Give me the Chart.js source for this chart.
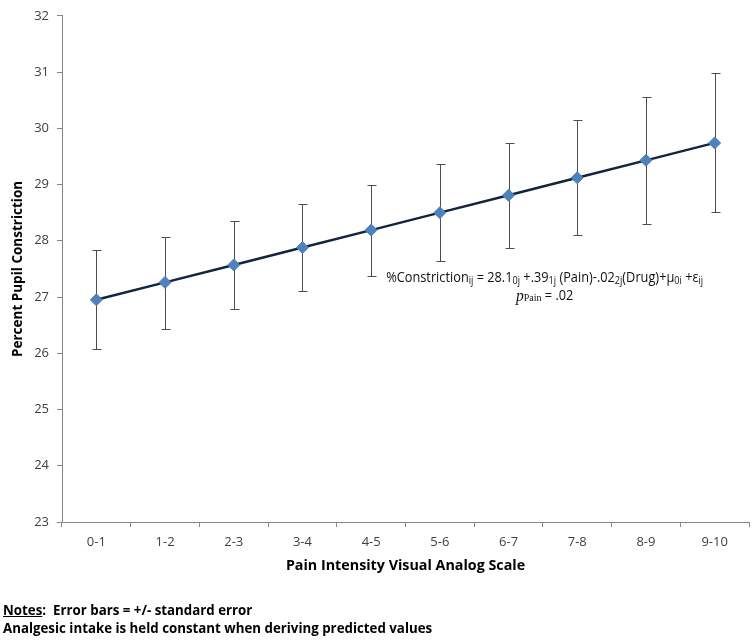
<!DOCTYPE html>
<html lang="en">
<head>
    <meta charset="UTF-8">
    <title>Percent Pupil Constriction by Pain Intensity</title>
    <script src="https://cdn.jsdelivr.net/npm/chart.js"></script>
    <style>
        body { margin: 0; background: #fff; }
        #wrap { position: relative; width: 756px; height: 641px; }
        #notes {
            position: absolute; left: 3px; top: 601px;
            font-family: "Open Sans", sans-serif; font-weight: bold;
            font-size: 13.3px; line-height: 18px; color: #000;
            letter-spacing: 0;
        }
    </style>
</head>
<body>
<div id="wrap">
    <canvas id="chart" width="756" height="641"></canvas>
    <div id="notes">
        <u>Notes</u>:&nbsp; Error bars = +/- standard error<br>
        Analgesic intake is held constant when deriving predicted values
    </div>
</div>
<script>
// data
const categories = ['0-1', '1-2', '2-3', '3-4', '4-5', '5-6', '6-7', '7-8', '8-9', '9-10'];
const predicted = [26.95, 27.26, 27.57, 27.88, 28.19, 28.50, 28.81, 29.12, 29.43, 29.74];
const upperSE = [27.83, 28.07, 28.36, 28.66, 28.99, 29.36, 29.74, 30.15, 30.56, 30.99];
const lowerSE = [26.07, 26.44, 26.78, 27.10, 27.38, 27.64, 27.88, 28.10, 28.30, 28.51];
const yMin = 23;
const yMax = 32;

// error bars drawn behind the line and markers
const errorBars = {
    id: 'errorBars',
    beforeDatasetsDraw(chart) {
        const { ctx, scales: { x, y } } = chart;
        ctx.save();
        ctx.strokeStyle = '#4d4d4d';
        ctx.lineWidth = 1;
        categories.forEach((c, i) => {
            const px = Math.round(x.getPixelForValue(i)) + 0.5;
            const top = Math.round(y.getPixelForValue(upperSE[i])) + 0.5;
            const bot = Math.round(y.getPixelForValue(lowerSE[i])) + 0.5;
            ctx.beginPath();
            ctx.moveTo(px, top); ctx.lineTo(px, bot);
            ctx.moveTo(px - 4, top); ctx.lineTo(px + 5, top);
            ctx.moveTo(px - 4, bot); ctx.lineTo(px + 5, bot);
            ctx.stroke();
        });
        ctx.restore();
    }
};

// model equation annotation
const equation = {
    id: 'equation',
    afterDraw(chart) {
        const { ctx, scales: { x, y } } = chart;
        const main = '14px "Open Sans"';
        const sub = '10px "Open Sans"';
        const line1 = [
            ['%Constriction', main, 0], ['ij', sub, 3], [' = 28.1', main, 0], ['0j', sub, 3],
            [' +.39', main, 0], ['1j', sub, 3], [' (Pain)-.02', main, 0], ['2j', sub, 3],
            ['(Drug)+\u03bc', main, 0], ['0i', sub, 3], [' +\u03b5', main, 0], ['ij', sub, 3]
        ];
        const line2 = [
            ['p', 'italic 17px "Liberation Serif"', 0], ['Pain', '11px "Liberation Serif"', 2],
            [' = .02', main, 0]
        ];
        const targetW = 317;
        const left = x.getPixelForValue(4) + 15;
        const cy = y.getPixelForValue(27.33);

        const measure = parts => parts.reduce((s, p) => { ctx.font = p[1]; return s + ctx.measureText(p[0]).width; }, 0);
        const w1 = measure(line1);
        const sx = targetW / w1;
        const drawLine = (parts, x0, yy) => {
            let cx = x0;
            parts.forEach(p => {
                ctx.font = p[1];
                ctx.fillText(p[0], cx, yy + p[2]);
                cx += ctx.measureText(p[0]).width;
            });
        };
        ctx.save();
        ctx.fillStyle = '#111';
        ctx.textBaseline = 'middle';
        ctx.translate(left, 0);
        ctx.scale(sx, 1);
        drawLine(line1, 0, cy);
        const w2 = measure(line2);
        drawLine(line2, (w1 - w2) / 2, cy + 18);
        ctx.restore();
    }
};

new Chart(document.getElementById('chart'), {
    type: 'line',
    data: {
        labels: categories,
        datasets: [{
            label: 'Predicted',
            data: predicted,
            borderColor: '#10253f',
            borderWidth: 2.5,
            tension: 0,
            pointStyle: 'rectRot',
            pointRadius: 6,
            pointBackgroundColor: '#4f81bd',
            pointBorderColor: '#4a7ebb',
            pointBorderWidth: 1
        }]
    },
    options: {
        responsive: false,
        animation: false,
        layout: { padding: { left: 10, top: 8, right: 3, bottom: 66 } },
        plugins: {
            legend: { display: false },
            tooltip: { enabled: false }
        },
        scales: {
            x: {
                offset: true,
                grid: { offset: true, drawOnChartArea: false, tickLength: 5, color: '#868686' },
                border: { color: '#868686' },
                ticks: { padding: 7, color: '#404040', font: { family: 'Open Sans', size: 13 } },
                title: {
                    display: true, text: 'Pain Intensity Visual Analog Scale', color: '#000',
                    padding: 0, font: { family: 'Open Sans', size: 14.3, weight: 'bold' }
                },
                afterFit(scale) { scale.height = 53; }
            },
            y: {
                min: yMin,
                max: yMax,
                grid: { drawOnChartArea: false, tickLength: 5, color: '#868686' },
                border: { color: '#868686' },
                ticks: { stepSize: 1, padding: 8, color: '#404040', font: { family: 'Open Sans', size: 13 } },
                title: {
                    display: true, text: 'Percent Pupil Constriction', color: '#000',
                    padding: 0, font: { family: 'Open Sans', size: 13.5, weight: 'bold' }
                },
                afterFit(scale) { scale.width = 52; }
            }
        }
    },
    plugins: [errorBars, equation]
});
</script>
</body>
</html>
